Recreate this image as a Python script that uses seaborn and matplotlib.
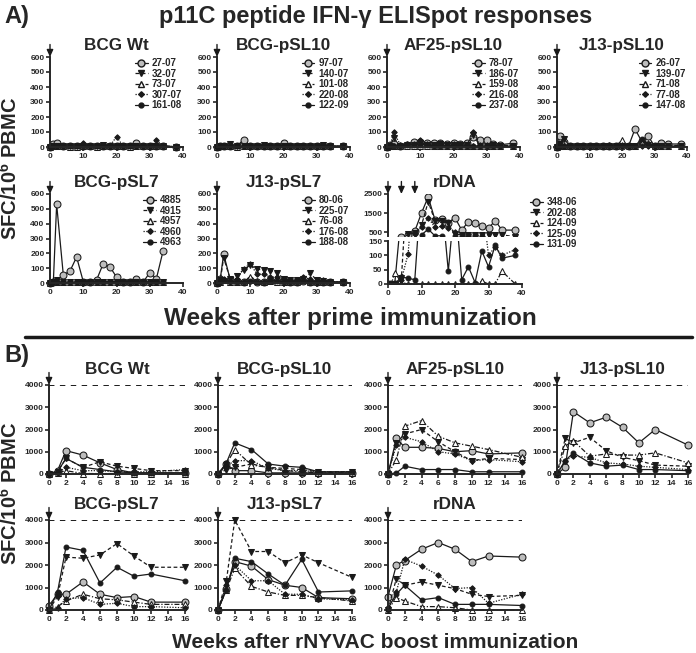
import numpy as np
import matplotlib
matplotlib.use("Agg")
import matplotlib.pyplot as plt
import seaborn as sns
from matplotlib.lines import Line2D

sns.set_theme(style="ticks")
plt.rcParams['font.family'] = ['Liberation Sans', 'DejaVu Sans']
plt.rcParams['mathtext.fontset'] = 'custom'
plt.rcParams['mathtext.bf'] = 'Liberation Sans:bold'
plt.rcParams['mathtext.rm'] = 'Liberation Sans:bold'

nan = np.nan

# ---- data: prime (panel A) ----
weeks_a = [0, 1, 2, 4, 6, 8, 10, 12, 14, 16, 18, 20, 22, 24, 26, 28, 30, 32, 34, 38]

a_groups = ["BCG Wt", "BCG-pSL10", "AF25-pSL10", "J13-pSL10", "BCG-pSL7", "J13-pSL7", "rDNA"]
a_labels = [
    ["27-07", "32-07", "73-07", "307-07", "161-08"],
    ["97-07", "140-07", "101-08", "220-08", "122-09"],
    ["78-07", "186-07", "159-08", "216-08", "237-08"],
    ["26-07", "139-07", "71-08", "77-08", "147-08"],
    ["4885", "4915", "4957", "4960", "4963"],
    ["80-06", "225-07", "76-08", "176-08", "188-08"],
    ["348-06", "202-08", "124-09", "125-09", "131-09"],
]
a_values = [
    [  # BCG Wt
        [0, 20, 25, 5, 5, 5, 10, 5, 5, 5, 5, 5, 5, 5, 25, 5, 5, 5, 5, 0],
        [0, 5, 10, 5, 5, 5, 5, 5, 5, 15, 10, 5, 5, 5, 5, 5, 10, 5, 5, 0],
        [0, 5, 5, 5, 0, 0, 5, 5, 0, 5, 5, 10, 5, 0, 5, 5, 5, 5, 5, 0],
        [0, 5, 10, 5, 5, 5, 30, 10, 5, 5, 5, 70, 5, 5, 5, 5, 5, 45, 10, 0],
        [0, 5, 5, 5, 5, 5, 10, 5, 5, 5, 5, 5, 5, 5, 5, 5, 5, 5, 10, 0],
    ],
    [  # BCG-pSL10
        [0, 5, 10, 5, 5, 50, 5, 5, 5, 10, 5, 25, 10, 5, 5, 5, 5, 5, 5, 5],
        [0, 5, 5, 20, 5, 5, 5, 10, 15, 5, 5, 5, 5, 5, 5, 5, 10, 15, 5, 5],
        [0, 5, 5, 5, 0, 5, 5, 5, 5, 5, 5, 5, 5, 5, 5, 5, 5, 5, 5, 5],
        [0, 5, 10, 5, 5, 5, 5, 5, 5, 10, 5, 10, 5, 5, 5, 5, 5, 10, 5, 5],
        [0, 5, 5, 5, 5, 5, 5, 5, 5, 5, 5, 5, 5, 5, 5, 5, 5, 10, 5, 5],
    ],
    [  # AF25-pSL10
        [0, 15, 20, 10, 15, 35, 35, 30, 25, 30, 20, 25, 20, 25, 70, 50, 50, 20, 15, 25],
        [0, 10, 60, 10, 15, 15, 30, 15, 15, 20, 15, 15, 15, 15, 80, 10, 10, 15, 10, 10],
        [0, 5, 5, 5, 5, 5, 5, 5, 5, 5, 5, 5, 5, 5, 5, 5, 5, 5, 5, 5],
        [0, 15, 100, 15, 20, 20, 50, 20, 15, 25, 15, 20, 20, 15, 100, 15, 15, 15, 10, 10],
        [0, 5, 5, 5, 15, 15, 15, 15, 5, 10, 5, 10, 5, 10, 10, 5, 5, 10, 5, 5],
    ],
    [  # J13-pSL10
        [0, 75, 35, 10, 5, 5, 5, 5, 5, 5, 5, 5, 5, 120, 40, 75, 5, 25, 20, 20],
        [0, 20, 55, 10, 5, 5, 5, 5, 5, 5, 5, 5, 5, 5, 20, 15, 5, 10, 10, 10],
        [0, 5, 5, 5, 5, 5, 5, 5, 10, 10, 5, 45, 5, 10, 30, 30, 5, 5, 5, 5],
        [0, 10, 10, 10, 5, 5, 5, 10, 10, 15, 5, 15, 5, 10, 10, 10, 5, 5, 5, 5],
        [0, 10, 10, 5, 5, 5, 5, 5, 5, 5, 5, 10, 5, 5, 55, 20, 5, 5, 5, 5],
    ],
    [  # BCG-pSL7
        [0, 5, 530, 55, 80, 175, 10, 10, 20, 130, 110, 40, 10, 5, 30, 5, 70, 30, 215, nan],
        [0, 10, 20, 10, 10, 5, 10, 10, 10, 10, 10, 10, 10, 5, 5, 5, 5, 10, 10, nan],
        [0, 5, 5, 5, 5, 5, 5, 5, 5, 5, 5, 5, 5, 5, 5, 5, 5, 5, 5, nan],
        [0, 5, 5, 5, 5, 5, 5, 5, 5, 5, 5, 5, 5, 5, 5, 5, 5, 5, 5, nan],
        [0, 5, 10, 5, 5, 5, 10, 10, 10, 10, 10, 10, 10, 5, 5, 5, 10, 5, 5, nan],
    ],
    [  # J13-pSL7
        [0, 30, 195, 20, 15, 10, 20, 10, 10, 20, 15, 15, 10, 10, 15, 10, 10, 10, 10, 5],
        [0, 20, 170, 25, 50, 90, 120, 95, 85, 80, 70, 30, 20, 20, 30, 65, 20, 15, 10, 5],
        [0, 10, 20, 10, 10, 10, 40, 15, 10, 15, 10, 10, 5, 10, 20, 10, 10, 5, 5, 5],
        [0, 10, 30, 10, 30, 95, 130, 60, 60, 40, 40, 25, 15, 20, 40, 25, 10, 20, 10, 5],
        [0, 10, 20, 15, 10, 10, 15, 10, 5, 20, 15, 10, 10, 10, 15, 10, 10, 10, 5, 5],
    ],
    [  # rDNA
        [0, 0, 0, 250, 350, 550, 1500, 2350, 1150, 1200, 1000, 1250, 600, 1050, 950, 800, 700, 1100, 600, 600],
        [0, 0, 0, 20, 400, 450, 850, 2100, 1100, 1100, 950, 400, 350, 350, 350, 350, 350, 350, 350, 250],
        [0, 0, 40, 5, 0, 0, 0, 0, 0, 0, 0, 0, 0, 0, 0, 10, 0, 0, 45, 0],
        [0, 0, 0, 15, 105, 400, 750, 1250, 750, 800, 700, 500, 300, 300, 300, 300, 100, 130, 100, 120],
        [0, 0, 0, 25, 20, 15, 350, 650, 300, 300, 45, 300, 15, 60, 5, 115, 60, 135, 90, 100],
    ],
]

# ---- data: boost (panel B) ----
weeks_b = [0, 1, 2, 4, 6, 8, 10, 12, 16]
b_values = [
    [  # BCG Wt
        [0, 150, 1050, 850, 500, 200, 50, 50, 50],
        [0, 100, 700, 300, 550, 350, 250, 150, 150],
        [0, 50, 150, 20, 20, 20, 20, 20, 20],
        [0, 50, 300, 150, 150, 100, 100, 100, 200],
        [0, 100, 700, 300, 200, 100, 50, 50, 50],
    ],
    [  # BCG-pSL10
        [0, 450, 150, 150, 50, 50, 50, 50, 50],
        [0, 200, 300, 450, 300, 250, 200, 100, 100],
        [0, 450, 1100, 400, 300, 150, 100, 50, 50],
        [0, 350, 600, 600, 250, 150, 150, 100, 100],
        [0, 500, 1400, 1100, 450, 350, 300, 100, 100],
    ],
    [  # AF25-pSL10
        [0, 1600, 1200, 1200, 1150, 1000, 1050, 900, 950],
        [0, 1400, 1800, 2000, 1450, 1000, 600, 700, 650],
        [0, 650, 2150, 2400, 1700, 1400, 1250, 1100, 750],
        [0, 1300, 1650, 1450, 1000, 900, 600, 650, 550],
        [0, 50, 350, 200, 200, 200, 100, 100, 100],
    ],
    [  # J13-pSL10
        [0, 300, 2800, 2300, 2550, 2100, 1400, 2000, 1300],
        [0, 1600, 1400, 1650, 1050, 750, 600, 400, 350],
        [0, 1250, 1500, 800, 900, 850, 850, 950, 500],
        [0, 600, 800, 750, 500, 450, 350, 300, 200],
        [0, 600, 950, 500, 350, 400, 200, 200, 150],
    ],
    [  # BCG-pSL7
        [200, 700, 700, 1250, 700, 550, 600, 350, 350],
        [0, 600, 2350, 2300, 2450, 2950, 2400, 1900, 1900],
        [0, 150, 400, 700, 500, 450, 350, 250, 250],
        [0, 100, 500, 550, 250, 300, 150, 150, 100],
        [0, 800, 2800, 2650, 1200, 1900, 1500, 1600, 1300],
    ],
    [  # J13-pSL7
        [0, 950, 2150, 1950, 1350, 1100, 1000, 550, 500],
        [0, 1300, 4000, 2600, 2600, 2100, 2450, 2100, 1450],
        [0, 900, 1850, 1050, 800, 650, 650, 550, 400],
        [0, 1100, 2000, 1300, 1300, 700, 700, 500, 450],
        [0, 900, 2300, 2150, 1600, 1100, 2250, 800, 850],
    ],
    [  # rDNA
        [600, 2000, 2200, 2700, 3000, 2700, 2150, 2400, 2350],
        [0, 1400, 1100, 1250, 1100, 950, 700, 600, 650],
        [0, 550, 400, 150, 150, 100, 0, 0, 0],
        [0, 800, 2250, 1950, 1550, 950, 1000, 300, 700],
        [100, 700, 1100, 450, 550, 250, 250, 250, 200],
    ],
]

# ---- styles ----
styles = [
    dict(marker='o', markersize=5, markerfacecolor='#bdbdbd', markeredgecolor='k', linestyle='-'),
    dict(marker='v', markersize=4.5, markerfacecolor='k', markeredgecolor='k', linestyle=(0, (3, 2))),
    dict(marker='^', markersize=4.5, markerfacecolor='white', markeredgecolor='k', linestyle=(0, (4, 1.5, 1, 1.5))),
    dict(marker='D', markersize=2.8, markerfacecolor='k', markeredgecolor='k', linestyle=(0, (1, 1.2))),
    dict(marker='o', markersize=3.5, markerfacecolor='k', markeredgecolor='k', linestyle='-'),
]

W, H = 696, 653
fig = plt.figure(figsize=(W / 100, H / 100), dpi=100)


def px_ax(x0, y0, x1, y1):
    return fig.add_axes([x0 / W, 1 - y1 / H, (x1 - x0) / W, (y1 - y0) / H])


def style_ax(ax):
    sns.despine(ax=ax)
    for s in ['left', 'bottom']:
        ax.spines[s].set_linewidth(1.4)
    ax.tick_params(axis='both', which='major', labelsize=6, width=1.2, length=3, pad=1)
    for lab in ax.get_xticklabels() + ax.get_yticklabels():
        lab.set_fontweight('bold')
    ax.set_xlabel('')
    ax.set_ylabel('')


def draw_series(ax, weeks, series, clip=False):
    for vals, st in zip(series, styles):
        sns.lineplot(x=weeks, y=vals, ax=ax, color='k', linewidth=0.9, **st)
    for ln in ax.lines:
        ln.set_clip_on(clip)


def add_arrow(ax, x, ytop):
    ax.annotate('', xy=(x, ytop), xytext=(0, 9), textcoords='offset points', annotation_clip=False,
                arrowprops=dict(arrowstyle='-|>,head_length=0.35,head_width=0.16',
                                color='k', lw=1.0, shrinkA=0, shrinkB=0))


def add_legend(ax, labels, **kw):
    handles = [Line2D([], [], color='k', linewidth=0.9, **st) for st in styles]
    leg = ax.legend(handles, labels, frameon=False, fontsize=7, handlelength=1.3,
                    handletextpad=0.4, labelspacing=0.05, borderaxespad=0, **kw)
    for t in leg.get_texts():
        t.set_fontweight('bold')


title_kw = dict(fontsize=12.3, fontweight='bold')

# ---- panel A ----
a_boxes = [(50, 57, 183, 147), (217, 57, 350, 147), (387, 57, 520, 147), (557, 57, 687, 147),
           (50, 194, 183, 283), (217, 194, 350, 283)]
for i, box in enumerate(a_boxes):
    ax = px_ax(*box)
    draw_series(ax, weeks_a, a_values[i])
    ax.set_xlim(0, 40)
    ax.set_ylim(0, 600)
    ax.set_xticks([0, 10, 20, 30, 40])
    ax.set_yticks(range(0, 601, 100))
    style_ax(ax)
    ax.set_title(a_groups[i], pad=5, **title_kw)
    add_arrow(ax, 0, 600)
    add_legend(ax, a_labels[i], loc='upper right', bbox_to_anchor=(1.02, 1.03))

# rDNA broken axis
ax_top = px_ax(388, 194, 522, 236)
ax_bot = px_ax(388, 241, 522, 284)
draw_series(ax_top, weeks_a, a_values[6], clip=True)
draw_series(ax_bot, weeks_a, a_values[6], clip=True)
ax_top.set_xlim(0, 40)
ax_bot.set_xlim(0, 40)
ax_top.set_ylim(290, 2500)
ax_bot.set_ylim(0, 150)
ax_top.set_yticks([500, 1500, 2500])
ax_bot.set_yticks([0, 50, 100, 150])
ax_bot.set_xticks([0, 10, 20, 30, 40])
style_ax(ax_top)
style_ax(ax_bot)
ax_top.spines['bottom'].set_visible(False)
ax_top.set_xticks([])
ax_top.set_title(a_groups[6], pad=5, **title_kw)
for xa in [0, 4, 8]:
    add_arrow(ax_top, xa, 2500)
add_legend(ax_top, a_labels[6], loc='upper left', bbox_to_anchor=(1.03, 1.02))

# ---- panel B ----
b_boxes = [(49, 385, 185, 474), (218, 385, 352, 474), (388, 385, 522, 474), (557, 385, 688, 474),
           (49, 520, 185, 610), (218, 520, 352, 610), (388, 520, 522, 610)]
for i, box in enumerate(b_boxes):
    ax = px_ax(*box)
    draw_series(ax, weeks_b, b_values[i])
    ax.axhline(4000, color='k', linestyle=(0, (2.8, 2.8)), linewidth=1.4)
    ax.set_xlim(0, 16)
    ax.set_ylim(0, 4000)
    ax.set_xticks(range(0, 17, 2))
    ax.set_yticks(range(0, 4001, 1000))
    style_ax(ax)
    ax.set_title(a_groups[i], pad=8, **title_kw)
    add_arrow(ax, 0, 4000)

# ---- figure text ----
fig.text(4 / W, 1 - 17 / H, 'A)', fontsize=17, fontweight='bold', va='center', ha='left')
fig.text(376 / W, 1 - 17 / H, 'p11C peptide IFN-γ ELISpot responses', fontsize=17,
         fontweight='bold', va='center', ha='center')
fig.text(350 / W, 1 - 318 / H, 'Weeks after prime immunization', fontsize=17.5,
         fontweight='bold', va='center', ha='center')
fig.text(4 / W, 1 - 355 / H, 'B)', fontsize=17, fontweight='bold', va='center', ha='left')
fig.text(375 / W, 1 - 643 / H, 'Weeks after rNYVAC boost immunization', fontsize=15,
         fontweight='bold', va='center', ha='center')
ylab = r'SFC/10$^{\mathbf{6}}$ PBMC'
fig.text(10 / W, 1 - 168 / H, ylab, fontsize=14.5, fontweight='bold', rotation=90, va='center', ha='center')
fig.text(10 / W, 1 - 493 / H, ylab, fontsize=14.5, fontweight='bold', rotation=90, va='center', ha='center')
fig.add_artist(Line2D([25 / W, 692 / W], [1 - 337 / H, 1 - 337 / H], color='k', linewidth=2.5))

fig.savefig('out.png', dpi=100)
